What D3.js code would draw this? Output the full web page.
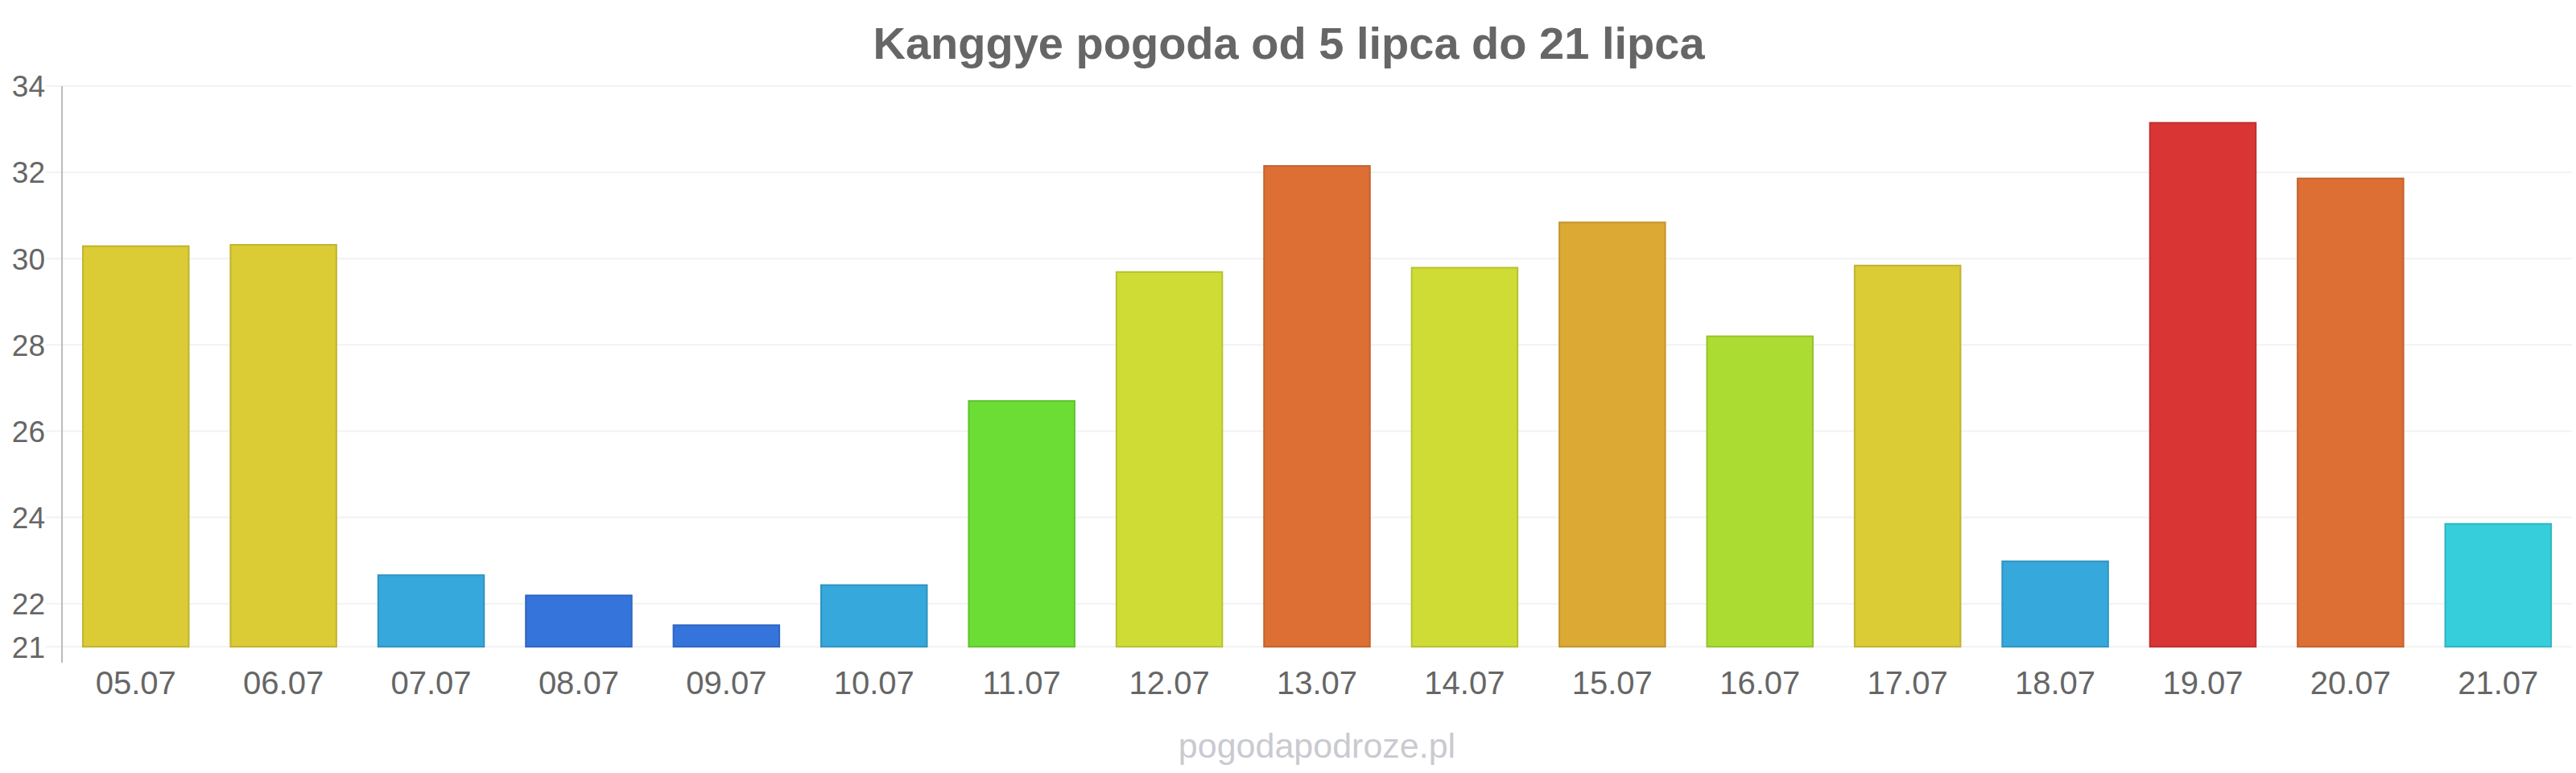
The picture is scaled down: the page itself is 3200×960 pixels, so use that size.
<!DOCTYPE html>
<html>
<head>
<meta charset="utf-8">
<script src="https://cdn.jsdelivr.net/npm/d3@7"></script>
<style>
  body { margin: 0; background: #fff; }
  svg { display: block; font-family: "Liberation Sans", Arial, sans-serif; }
</style>
</head>
<body>
<svg width="3200" height="960"></svg>
<script>
var days = ["05.07", "06.07", "07.07", "08.07", "09.07", "10.07", "11.07", "12.07", "13.07",
            "14.07", "15.07", "16.07", "17.07", "18.07", "19.07", "20.07", "21.07"];
var temps = [30.29, 30.32, 22.66, 22.19, 21.50, 22.43, 26.70, 29.69, 32.15,
             29.79, 30.84, 28.20, 29.84, 22.98, 33.15, 31.86, 23.85];
var barColors = ["#dbcb35", "#dbcb35", "#36a8db", "#3574db", "#3574db", "#36a8db", "#6cdd35", "#cfdc36", "#dd6f35",
                 "#cfdc36", "#dca935", "#abdc32", "#dbcb35", "#36a8db", "#da3535", "#dd6f35", "#36cedb"];
var yTicks = [21, 22, 24, 26, 28, 30, 32, 34];
var title = "Kanggye pogoda od 5 lipca do 21 lipca";
var credit = "pogodapodroze.pl";

// note: "top" is taken by window.top, so keep the box in an object
var svg = d3.select("svg"),
    plot = {left: 77, right: 3195, top: 107, bottom: 823};

var x = d3.scaleBand()
    .domain(days)
    .range([plot.left, plot.right])
    .paddingInner(0.283)
    .paddingOuter(0.1415);

var y = d3.scaleLinear()
    .domain([20.63, 34])
    .range([plot.bottom, plot.top]);

// grid lines
svg.append("g")
    .selectAll("line")
    .data(yTicks)
  .enter().append("line")
    .attr("x1", 57)
    .attr("x2", plot.right)
    .attr("y1", function(d) { return y(d); })
    .attr("y2", function(d) { return y(d); })
    .attr("stroke", "#f2f2f2")
    .attr("stroke-width", 2);

// y axis line
svg.append("line")
    .attr("x1", plot.left).attr("x2", plot.left)
    .attr("y1", y(34)).attr("y2", plot.bottom)
    .attr("stroke", "#bbb")
    .attr("stroke-width", 2);

svg.append("g")
    .selectAll("text")
    .data(yTicks)
  .enter().append("text")
    .attr("x", 56)
    .attr("y", function(d) { return y(d); })
    .attr("dy", "0.36em")
    .attr("text-anchor", "end")
    .attr("font-size", 37)
    .attr("fill", "#666")
    .text(function(d) { return d; });

// bars start at 21
svg.append("g")
    .selectAll("rect")
    .data(temps)
  .enter().append("rect")
    .attr("x", function(d, i) { return x(days[i]); })
    .attr("width", x.bandwidth())
    .attr("y", function(d) { return y(d); })
    .attr("height", function(d) { return y(21) - y(d); })
    .attr("fill", function(d, i) { return barColors[i]; })
    .attr("stroke", function(d, i) { return d3.color(barColors[i]).darker(0.35); })
    .attr("stroke-width", 2);

svg.append("g")
    .selectAll("text")
    .data(days)
  .enter().append("text")
    .attr("x", function(d) { return x(d) + x.bandwidth() / 2; })
    .attr("y", 862)
    .attr("text-anchor", "middle")
    .attr("font-size", 40)
    .attr("fill", "#666")
    .text(function(d) { return d; });

svg.append("text")
    .attr("x", 1601)
    .attr("y", 73)
    .attr("text-anchor", "middle")
    .attr("font-size", 56)
    .attr("font-weight", "bold")
    .attr("fill", "#666")
    .text(title);

svg.append("text")
    .attr("x", 1636)
    .attr("y", 941)
    .attr("text-anchor", "middle")
    .attr("font-size", 43)
    .attr("fill", "#cacad0")
    .text(credit);
</script>
</body>
</html>
